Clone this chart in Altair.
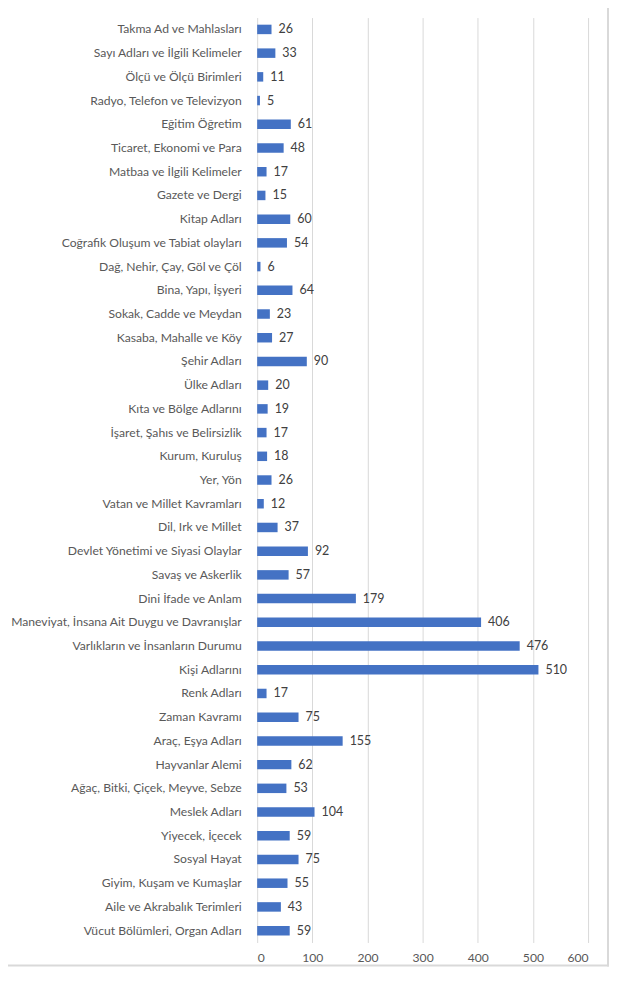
import altair as alt
import pandas as pd

categories = [
    "Takma Ad ve Mahlasları",
    "Sayı Adları ve İlgili Kelimeler",
    "Ölçü ve Ölçü Birimleri",
    "Radyo, Telefon ve Televizyon",
    "Eğitim Öğretim",
    "Ticaret, Ekonomi ve Para",
    "Matbaa ve İlgili Kelimeler",
    "Gazete ve Dergi",
    "Kitap Adları",
    "Coğrafik Oluşum ve Tabiat olayları",
    "Dağ, Nehir, Çay, Göl ve Çöl",
    "Bina, Yapı, İşyeri",
    "Sokak, Cadde ve Meydan",
    "Kasaba, Mahalle ve Köy",
    "Şehir Adları",
    "Ülke Adları",
    "Kıta ve Bölge Adlarını",
    "İşaret, Şahıs ve Belirsizlik",
    "Kurum, Kuruluş",
    "Yer, Yön",
    "Vatan ve Millet Kavramları",
    "Dil, Irk ve Millet",
    "Devlet Yönetimi ve Siyasi Olaylar",
    "Savaş ve Askerlik",
    "Dini İfade ve Anlam",
    "Maneviyat, İnsana Ait Duygu ve Davranışlar",
    "Varlıkların ve İnsanların Durumu",
    "Kişi Adlarını",
    "Renk Adları",
    "Zaman Kavramı",
    "Araç, Eşya Adları",
    "Hayvanlar Alemi",
    "Ağaç, Bitki, Çiçek, Meyve, Sebze",
    "Meslek Adları",
    "Yiyecek, İçecek",
    "Sosyal Hayat",
    "Giyim, Kuşam ve Kumaşlar",
    "Aile ve Akrabalık Terimleri",
    "Vücut Bölümleri, Organ Adları",
]
values = [26, 33, 11, 5, 61, 48, 17, 15, 60, 54, 6, 64, 23, 27, 90, 20, 19, 17,
          18, 26, 12, 37, 92, 57, 179, 406, 476, 510, 17, 75, 155, 62, 53, 104,
          59, 75, 55, 43, 59]
x_ticks = [0, 100, 200, 300, 400, 500, 600]

df = pd.DataFrame({"kategori": categories, "deger": values})

FONT = "Lato"

y_enc = alt.Y("kategori:N", sort=categories, title=None,
              scale=alt.Scale(paddingInner=0.6, paddingOuter=0.3),
              axis=alt.Axis(labelFontSize=12.2, labelColor="#595959", labelFont=FONT,
                            ticks=False, domain=False, labelPadding=16,
                            labelLimit=400))
x_enc = alt.X("deger:Q", title=None,
              scale=alt.Scale(domain=[0, 600], nice=False),
              axis=alt.Axis(values=x_ticks, grid=True, gridColor="#d9d9d9",
                            domain=False, ticks=False, labelFontSize=12.2,
                            labelColor="#595959", labelFont=FONT, labelPadding=9))

base = alt.Chart(df)
bars = base.mark_bar(color="#4472C4").encode(x=x_enc, y=y_enc)
labels = base.mark_text(align="left", baseline="middle", dx=7, fontSize=12.5,
                        font=FONT, color="#404040").encode(
    x="deger:Q", y=alt.Y("kategori:N", sort=categories), text="deger:Q")

frame_src = alt.Chart(pd.DataFrame({"a": [0]}))
frame_right = frame_src.mark_rule(color="#d9d9d9", strokeWidth=2).encode(
    x=alt.value(352), y=alt.value(-100), y2=alt.value(952))
frame_bottom = frame_src.mark_rule(color="#d9d9d9", strokeWidth=2).encode(
    x=alt.value(-300), x2=alt.value(353), y=alt.value(951))

chart = alt.layer(bars, labels, frame_right, frame_bottom).properties(
    width=332, height=928,
    autosize=alt.AutoSizeParams(type="none"),
    padding={"left": 250, "top": 8, "right": 22, "bottom": 24},
).configure_view(stroke=None)

chart.save("out.html", embed_options={"renderer": "svg", "actions": False})
